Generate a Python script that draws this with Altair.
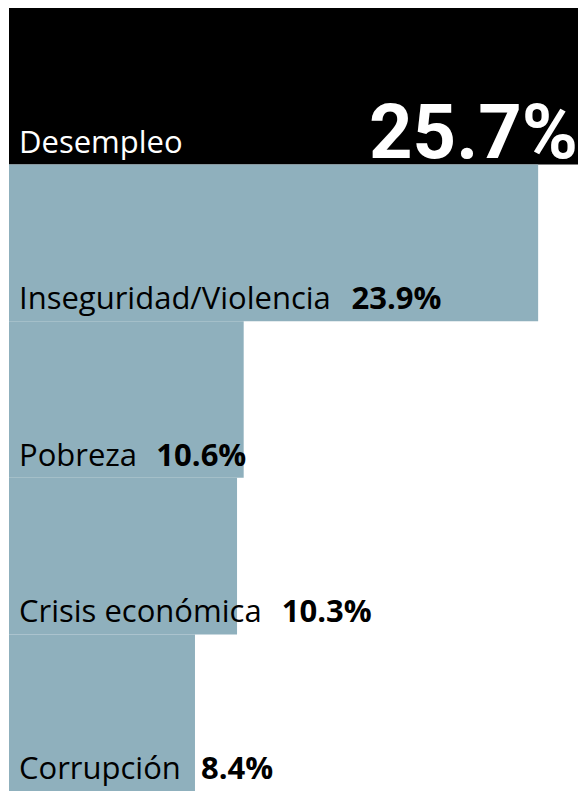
import altair as alt
import pandas as pd

categories = ["Desempleo", "Inseguridad/Violencia", "Pobreza", "Crisis económica", "Corrupción"]
values = [25.7, 23.9, 10.6, 10.3, 8.4]
value_labels = ["25.7%", "23.9%", "10.6%", "10.3%", "8.4%"]

LABEL_FONT = "Open Sans"
LABEL_SIZE = 31
LABEL_X = 10
GAP = 20

# approximate Open Sans Regular advance widths (units per 2048 em)
ADV = {
    "a": 1139, "b": 1255, "c": 975, "d": 1255, "e": 1149, "g": 1122, "i": 518,
    "l": 518, "m": 1905, "n": 1257, "o": 1237, "ó": 1237, "p": 1255, "r": 836,
    "s": 977, "u": 1257, "z": 930, "y": 1075, "/": 754, " ": 532, "C": 1292,
    "D": 1493, "I": 614, "P": 1206, "V": 1198,
}


def text_width(s):
    return sum(ADV.get(ch, 1150) for ch in s) / 2048 * LABEL_SIZE


df = pd.DataFrame({
    "cat": categories,
    "val": values,
    "lab": value_labels,
    "top": [i == 0 for i in range(len(categories))],
})
df["vx"] = [LABEL_X + text_width(c) + GAP for c in categories]

W, H = 569, 783
blue = "#8fb0bd"

base = alt.Chart(df)
ysort = alt.Y("cat:N", sort=categories, axis=None,
              scale=alt.Scale(paddingInner=0, paddingOuter=0))

bars = base.mark_bar(cornerRadius=0).encode(
    y=ysort,
    x=alt.X("val:Q", axis=None, scale=alt.Scale(domain=[0, 25.7], nice=False, zero=True)),
    color=alt.condition("datum.top", alt.value("#000000"), alt.value(blue)),
)

ybottom = alt.Y("cat:N", sort=categories, axis=None, bandPosition=1,
                scale=alt.Scale(paddingInner=0, paddingOuter=0))

cat_text = base.mark_text(align="left", baseline="alphabetic", dy=-12,
                          font=LABEL_FONT, fontSize=LABEL_SIZE).encode(
    y=ybottom,
    x=alt.value(LABEL_X),
    text="cat:N",
    color=alt.condition("datum.top", alt.value("#ffffff"), alt.value("#000000")),
)

val_text = base.transform_filter("!datum.top").mark_text(
    align="left", baseline="alphabetic", dy=-12,
    font=LABEL_FONT, fontSize=LABEL_SIZE, fontWeight="bold", color="#000000").encode(
    y=ybottom,
    x=alt.X("vx:Q", scale=None),
    text="lab:N",
)

big_text = base.transform_filter("datum.top").mark_text(
    align="right", baseline="alphabetic", dy=-7,
    font="Roboto", fontSize=76, fontWeight="bold", color="#ffffff").encode(
    y=ybottom,
    x=alt.value(W),
    text="lab:N",
)

chart = alt.layer(bars, cat_text, val_text, big_text).properties(
    width=W, height=H,
    padding={"left": 1, "top": 0, "right": 0, "bottom": 0},
    autosize=alt.AutoSizeParams(type="none"),
).configure_view(stroke=None)

chart.save("out.html", embed_options={"renderer": "svg", "actions": False})
